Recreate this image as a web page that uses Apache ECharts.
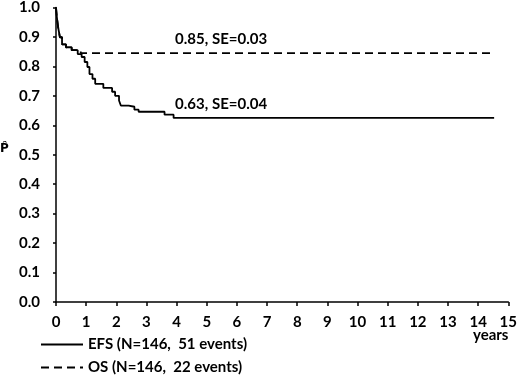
<!DOCTYPE html>
<html>
<head>
<meta charset="utf-8">
<script src="https://cdn.jsdelivr.net/npm/echarts@6/dist/echarts.min.js"></script>
<style>
  html, body { margin: 0; padding: 0; background: #fff; }
  #chart { width: 520px; height: 376px; }
</style>
</head>
<body>
<div id="chart"></div>
<script>
// survival curves: [years, probability]
var efsPoints = [
  [0, 1.0], [0.03, 0.966], [0.07, 0.933], [0.13, 0.899], [0.2, 0.875],
  [0.33, 0.865], [0.52, 0.855], [0.72, 0.842], [0.85, 0.832], [0.95, 0.815],
  [1.04, 0.798], [1.11, 0.774], [1.21, 0.758], [1.3, 0.741], [1.57, 0.727],
  [1.86, 0.714], [1.96, 0.70], [2.09, 0.684], [2.15, 0.667], [2.41, 0.663],
  [2.6, 0.653], [2.74, 0.646], [3.6, 0.636], [3.9, 0.625], [14.53, 0.625]
];
var osPoints = [
  [0, 1.0], [0.03, 0.966], [0.07, 0.933], [0.13, 0.899], [0.2, 0.875],
  [0.33, 0.865], [0.52, 0.855], [0.82, 0.845], [14.53, 0.845]
];
var seriesNames = ['EFS (N=146,  51 events)', 'OS (N=146,  22 events)'];
var efsNote = '0.63, SE=0.04';
var osNote = '0.85, SE=0.03';
var notePos = { efs: [3.95, 0.625], os: [3.95, 0.845] };

var font = 'Lato, "Open Sans", sans-serif';

var chart = echarts.init(document.getElementById('chart'), null, { renderer: 'canvas' });

// one legend box per series so they stack like the original
function legendRow(name, top) {
  return {
    left: 40, top: top,
    padding: 0,
    itemWidth: 42, itemHeight: 14,
    itemStyle: { opacity: 0 },
    textStyle: { color: '#000', fontSize: 15, fontWeight: 'bold', fontFamily: font },
    data: [name]
  };
}

chart.setOption({
  animation: false,
  backgroundColor: '#fff',
  grid: { left: 56, right: 4, top: 5, bottom: 74 },
  xAxis: {
    type: 'value',
    min: 0, max: 15, interval: 1,
    offset: 2,
    axisLine: { show: true, lineStyle: { color: '#000', width: 1.5 } },
    axisTick: { show: true, length: 4, lineStyle: { color: '#000', width: 1.5 } },
    axisLabel: { margin: 11, color: '#000', fontSize: 15, fontWeight: 'bold', fontFamily: font },
    splitLine: { show: false }
  },
  yAxis: {
    type: 'value',
    min: 0, max: 1, interval: 0.1,
    offset: 3,
    axisLine: { show: true, lineStyle: { color: '#000', width: 1.5 } },
    axisTick: { show: true, length: 3, lineStyle: { color: '#000', width: 1.5 } },
    axisLabel: {
      margin: 13, color: '#000', fontSize: 15, fontWeight: 'bold', fontFamily: font,
      formatter: function (v) { return v.toFixed(1); }
    },
    splitLine: { show: false }
  },
  legend: [legendRow(seriesNames[0], 337), legendRow(seriesNames[1], 360)],
  graphic: [
    {
      type: 'text', left: 473, top: 328,
      style: { text: 'years', fill: '#000', font: 'bold 15px ' + font }
    },
    {
      type: 'text', left: 0, top: 143,
      style: { text: 'P\u0302', fill: '#000', font: 'bold 12px "DejaVu Sans"' }
    }
  ],
  series: [
    {
      name: seriesNames[0],
      type: 'line',
      step: 'end',
      data: efsPoints,
      symbol: 'none',
      lineStyle: { color: '#000', width: 1.8, type: 'solid' },
      itemStyle: { color: '#000' },
      markPoint: {
        symbol: 'circle', symbolSize: 0,
        data: [{ coord: notePos.efs, value: efsNote }],
        label: {
          show: true, position: 'right', distance: 0, offset: [0, -14],
          formatter: efsNote,
          color: '#000', fontSize: 15, fontWeight: 'bold', fontFamily: font
        }
      }
    },
    {
      name: seriesNames[1],
      type: 'line',
      step: 'end',
      data: osPoints,
      symbol: 'none',
      lineStyle: { color: '#000', width: 1.8, type: [8, 5] },
      itemStyle: { color: '#000' },
      markPoint: {
        symbol: 'circle', symbolSize: 0,
        data: [{ coord: notePos.os, value: osNote }],
        label: {
          show: true, position: 'right', distance: 0, offset: [0, -14],
          formatter: osNote,
          color: '#000', fontSize: 15, fontWeight: 'bold', fontFamily: font
        }
      }
    }
  ]
});
</script>
</body>
</html>
